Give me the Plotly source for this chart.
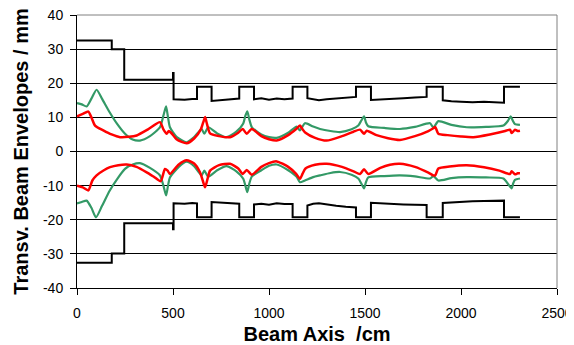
import plotly.graph_objects as go

# ---------------- data ----------------
ap_up_x = [0, 181, 181, 246, 246, 500, 500, 503, 503, 560, 600, 625, 625, 701, 701, 760, 800, 845, 845,
           922, 922, 960, 1000, 1040, 1080, 1123, 1123, 1200, 1200, 1230, 1260, 1300, 1350, 1400, 1453, 1453,
           1531, 1531, 1580, 1640, 1700, 1760, 1821, 1821, 1905, 1905, 1950, 2000, 2060, 2120, 2180, 2224,
           2224, 2307]
ap_up_y = [32.5, 32.5, 30.0, 30.0, 21.0, 21.0, 23.0, 23.0, 15.3, 15.2, 15.4, 15.4, 19.0, 19.0, 14.8, 15.0,
           15.2, 15.5, 19.0, 19.0, 15.3, 15.6, 15.2, 15.5, 15.3, 15.5, 19.0, 19.0, 15.6, 15.2, 15.0, 15.3,
           15.5, 15.8, 16.0, 19.0, 19.0, 15.1, 15.3, 15.5, 15.6, 15.8, 16.0, 19.0, 19.0, 15.0, 14.7, 14.6,
           14.4, 14.6, 14.3, 14.3, 19.0, 19.0]
ap_lo_y = [-32.6, -32.6, -29.9, -29.9, -21.0, -21.0, -22.8, -22.8, -15.2, -15.3, -15.1, -15.2, -19.3, -19.3,
           -14.8, -15.0, -15.1, -15.3, -19.3, -19.3, -15.5, -15.3, -15.6, -15.2, -15.4, -15.4, -19.3, -19.3,
           -15.8, -15.3, -15.2, -15.6, -15.9, -16.2, -16.4, -19.3, -19.3, -15.0, -15.2, -15.4, -15.5, -15.6,
           -15.7, -19.3, -19.3, -15.1, -14.9, -14.8, -14.6, -14.5, -14.4, -14.4, -19.3, -19.3]

red_up_x = [0, 30, 59, 75, 94, 137, 180, 224, 270, 311, 370, 432, 450, 467, 478, 490, 520, 571, 610, 645,
            660, 667, 675, 693, 740, 797, 840, 863, 884, 910, 960, 1000, 1040, 1100, 1140, 1161, 1175, 1190,
            1240, 1300, 1380, 1440, 1474, 1495, 1509, 1560, 1620, 1682, 1760, 1830, 1856, 1866, 1882, 1930,
            2000, 2064, 2150, 2230, 2255, 2264, 2281, 2295, 2307]
red_up_y = [10.3, 11.0, 11.7, 10.0, 7.6, 6.2, 5.0, 4.2, 4.3, 4.7, 6.5, 8.6, 6.5, 5.2, 6.0, 5.5, 3.5, 2.4,
            3.8, 6.5, 9.0, 10.1, 8.5, 5.3, 4.5, 4.2, 5.5, 6.6, 5.2, 6.6, 4.5, 3.6, 3.2, 4.8, 6.5, 7.6, 6.5,
            5.5, 4.0, 3.2, 4.5, 5.8, 6.4, 5.2, 6.1, 4.8, 3.9, 3.4, 4.5, 6.0, 6.8, 7.2, 5.2, 4.8, 4.4, 4.2,
            5.0, 6.0, 6.4, 5.4, 6.4, 6.0, 6.1]

red_lo_x = [0, 30, 59, 80, 102, 140, 172, 215, 259, 310, 363, 400, 436, 458, 472, 484, 530, 571, 610, 640,
            655, 667, 680, 693, 740, 797, 840, 863, 884, 910, 960, 1000, 1040, 1100, 1140, 1161, 1175, 1190,
            1240, 1300, 1380, 1440, 1474, 1495, 1517, 1580, 1630, 1682, 1760, 1830, 1856, 1866, 1882, 1940,
            2030, 2120, 2200, 2255, 2264, 2281, 2295, 2307]
red_lo_y = [-10.0, -10.5, -11.4, -8.5, -7.0, -5.5, -4.6, -4.0, -3.8, -4.5, -6.1, -7.4, -8.7, -5.1, -5.6,
            -6.6, -3.8, -2.6, -3.5, -6.0, -8.5, -10.5, -8.0, -5.6, -4.0, -3.6, -5.0, -6.6, -5.4, -6.8, -4.5,
            -3.4, -2.9, -4.5, -6.5, -8.0, -6.5, -5.0, -3.9, -3.6, -4.5, -5.8, -6.6, -5.2, -6.6, -4.8, -3.9,
            -3.6, -4.5, -6.2, -7.0, -7.0, -5.0, -4.4, -4.0, -4.6, -5.6, -6.6, -5.8, -6.7, -6.4, -6.4]

grn_up_x = [0, 25, 50, 75, 102, 130, 170, 210, 250, 290, 328, 380, 432, 450, 464, 474, 484, 520, 571, 610,
            649, 663, 684, 730, 779, 830, 866, 877, 887, 897, 911, 960, 1000, 1040, 1100, 1144, 1161, 1187,
            1230, 1266, 1320, 1370, 1430, 1465, 1480, 1495, 1505, 1517, 1600, 1682, 1760, 1839, 1856, 1882,
            1950, 2030, 2130, 2221, 2245, 2259, 2270, 2281, 2307]
grn_up_y = [14.2, 13.8, 13.2, 15.5, 18.1, 15.5, 11.5, 8.0, 5.2, 3.5, 3.2, 4.5, 7.1, 10.5, 13.2, 10.0, 7.1,
            4.2, 2.7, 4.2, 6.6, 5.2, 7.1, 5.3, 4.2, 5.8, 8.2, 10.5, 11.8, 9.5, 7.1, 5.0, 4.2, 4.0, 5.5, 7.3,
            6.2, 8.3, 7.3, 6.6, 6.0, 5.7, 6.5, 7.6, 9.0, 10.3, 8.5, 7.4, 6.9, 6.6, 7.2, 8.3, 7.0, 8.9, 7.8,
            7.1, 7.2, 7.6, 9.0, 10.3, 9.0, 8.0, 7.8]

grn_lo_x = [0, 25, 50, 75, 99, 130, 170, 210, 250, 290, 328, 380, 432, 450, 464, 474, 484, 530, 571, 610,
            649, 663, 684, 730, 779, 830, 866, 877, 887, 897, 911, 960, 1000, 1040, 1100, 1144, 1161, 1187,
            1230, 1266, 1320, 1370, 1430, 1465, 1480, 1495, 1505, 1517, 1600, 1682, 1760, 1839, 1856, 1882,
            1950, 2030, 2130, 2221, 2245, 2264, 2272, 2281, 2307]
grn_lo_y = [-15.2, -14.8, -14.4, -16.5, -19.3, -16.0, -11.5, -8.0, -5.1, -3.8, -3.4, -4.8, -7.0, -10.0,
            -12.9, -10.0, -7.6, -4.5, -3.0, -4.3, -7.0, -5.6, -7.4, -5.5, -4.3, -5.8, -8.0, -10.0, -11.9,
            -9.5, -7.3, -5.5, -4.2, -3.8, -5.5, -7.4, -9.0, -8.5, -7.5, -7.0, -6.3, -6.0, -6.8, -7.9, -9.3,
            -10.8, -9.0, -7.6, -7.2, -7.0, -7.3, -7.9, -7.2, -8.5, -7.8, -7.5, -7.6, -7.9, -9.5, -10.8, -9.3,
            -8.3, -7.9]

x_ticks = [0, 500, 1000, 1500, 2000, 2500]
y_ticks = [-40, -30, -20, -10, 0, 10, 20, 30, 40]

# ---------------- figure ----------------
BLACK = "#000000"
RED = "#FF0000"
GREEN = "#339966"

fig = go.Figure()
fig.add_trace(go.Scatter(x=ap_up_x, y=ap_up_y, mode="lines", line=dict(color=BLACK, width=2)))
fig.add_trace(go.Scatter(x=ap_up_x, y=ap_lo_y, mode="lines", line=dict(color=BLACK, width=2)))
fig.add_trace(go.Scatter(x=grn_up_x, y=grn_up_y, mode="lines",
                         line=dict(color=GREEN, width=2.2, shape="spline", smoothing=0.6)))
fig.add_trace(go.Scatter(x=grn_lo_x, y=grn_lo_y, mode="lines",
                         line=dict(color=GREEN, width=2.2, shape="spline", smoothing=0.6)))
fig.add_trace(go.Scatter(x=red_up_x, y=red_up_y, mode="lines",
                         line=dict(color=RED, width=2.5, shape="spline", smoothing=0.6)))
fig.add_trace(go.Scatter(x=red_lo_x, y=red_lo_y, mode="lines",
                         line=dict(color=RED, width=2.5, shape="spline", smoothing=0.6)))

font_family = "Liberation Sans, Arial, sans-serif"
fig.update_layout(
    width=566, height=337,
    margin=dict(l=69, r=17, t=7, b=57),
    paper_bgcolor="white", plot_bgcolor="white",
    showlegend=False,
    font=dict(family=font_family, size=14, color="black"),
    xaxis=dict(range=[0, 2500], tickvals=x_ticks, ticktext=[str(v) for v in x_ticks],
               automargin=False, ticklabelstandoff=6, ticklabeloverflow="allow",
               showgrid=False, zeroline=False, showline=True, linecolor="black", linewidth=1,
               ticks="outside", ticklen=6, tickcolor="black",
               title=dict(text="<b>Beam Axis&nbsp; /cm</b>", font=dict(size=20), standoff=15)),
    yaxis=dict(range=[-40, 40], tickvals=y_ticks, ticktext=[str(v) for v in y_ticks],
               automargin=False, ticklabelstandoff=4, ticklabeloverflow="allow",
               showgrid=True, gridcolor="black", gridwidth=1, zeroline=False,
               showline=True, linecolor="black", linewidth=1,
               ticks="outside", ticklen=6, tickcolor="black",
               title=dict(text="<b>Transv. Beam Envelopes / mm</b>", font=dict(size=20), standoff=8)),
    shapes=[
        dict(type="line", xref="paper", yref="paper", x0=0, x1=1, y0=1, y1=1,
             line=dict(color="#808080", width=1), layer="above"),
        dict(type="line", xref="paper", yref="paper", x0=1, x1=1, y0=0, y1=1,
             line=dict(color="#808080", width=1), layer="above"),
    ],
)

fig.write_html("out.html")
